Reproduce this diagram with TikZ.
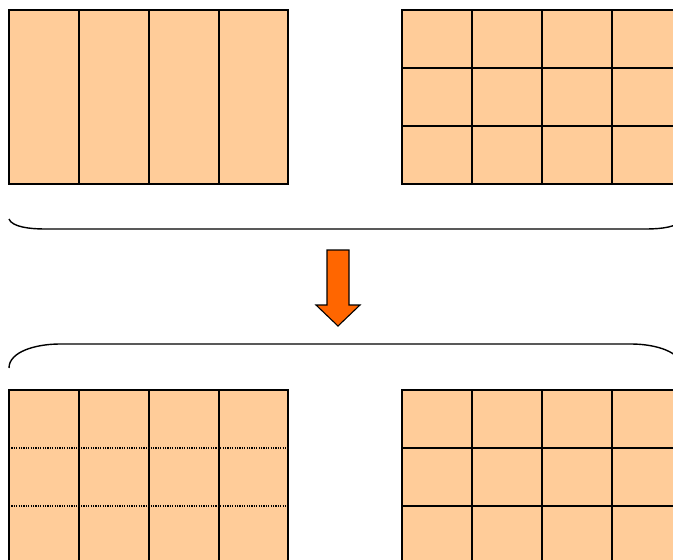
\documentclass[tikz,border=0pt]{standalone}
\definecolor{cellfill}{HTML}{FFCC99}
\definecolor{arrowfill}{HTML}{FF6600}
\begin{document}
\begin{tikzpicture}[x=1pt,y=-1pt,
  cell/.style={fill=cellfill,draw=black,line width=1.4pt},
  dotline/.style={draw=black,line width=1.2pt,dash pattern=on 1.2pt off 1.2pt},
  bracket/.style={draw=black,line width=1.4pt},
  bigarrow/.style={fill=arrowfill,draw=black,line width=1.1pt,line join=miter}]
\useasboundingbox (0,0) rectangle (673,560);
\clip (0,0) rectangle (673,560);
% top-left: four tall columns
\fill[cellfill] (9,10) rectangle (288,184);
\foreach \x in {9,79,149,219,288}
  \draw[cell] (\x,10) -- (\x,184);
\draw[cell,fill=none] (9,10) rectangle (288,184);
% top-right: grid
\foreach \i in {0,...,3}
  \foreach \j in {0,...,2}
    \draw[cell] (402+70*\i,10+58*\j) rectangle ++(70,58);
% top bracket
\draw[bracket] (9,219) .. controls (12,227) and (30,229) .. (45,229) -- (646,229)
  .. controls (661,229) and (679,227) .. (682,219);
% arrow
\draw[bigarrow] (327,250) -- (349,250) -- (349,305) -- (360,305) -- (338,326)
  -- (316,305) -- (327,305) -- cycle;
% bottom bracket
\draw[bracket] (9,368) .. controls (9,352) and (35,344) .. (60,344) -- (631,344)
  .. controls (656,344) and (682,352) .. (682,368);
% bottom-left: columns with dotted rows
\fill[cellfill] (9,390) rectangle (288,620);
\foreach \y in {448,506}
  \draw[dotline] (9,\y) -- (288,\y);
\foreach \x in {9,79,149,219,288}
  \draw[cell] (\x,390) -- (\x,620);
\draw[cell,fill=none] (9,390) rectangle (288,620);
% bottom-right: grid
\foreach \i in {0,...,3}
  \foreach \j in {0,...,2}
    \draw[cell] (402+70*\i,390+58*\j) rectangle ++(70,58);
\end{tikzpicture}
\end{document}
